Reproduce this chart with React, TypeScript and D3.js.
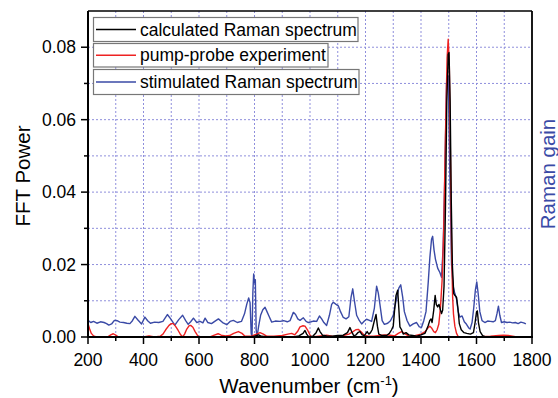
import React from "react";
import * as d3 from "d3";

const blueX = [200,210,220,232,245,258,267,275,285,295,305,315,328,340,351,360,369,380,393,405,415,425,440,455,470,486,498,513,527,541,552,561,570,580,592,604,614,622,632,645,658,670,685,700,712,724,738,753,764,772,779,784,788,791,794,797,800,803,806,809,815,822,830,838,845,852,862,875,892,905,918,928,940,948,956,964,976,986,994,1004,1012,1024,1034,1042,1050,1060,1070,1078,1084,1094,1102,1110,1120,1130,1140,1148,1154,1160,1168,1178,1186,1196,1204,1214,1222,1232,1240,1246,1252,1260,1268,1280,1290,1300,1310,1320,1327,1334,1340,1350,1360,1372,1384,1394,1402,1410,1418,1426,1432,1438,1442,1447,1452,1460,1468,1474,1480,1486,1492,1498,1504,1510,1516,1522,1528,1534,1540,1548,1556,1564,1572,1577,1584,1590,1596,1601,1606,1612,1620,1630,1640,1650,1660,1668,1674,1679,1684,1690,1700,1710,1720,1730,1740,1750,1760,1770,1778];
const blueY = [0.0046,0.0040,0.0043,0.0038,0.0042,0.0040,0.0037,0.0033,0.0036,0.0046,0.0045,0.0041,0.0040,0.0038,0.0037,0.0045,0.0057,0.0047,0.0036,0.0055,0.0045,0.0038,0.0041,0.0040,0.0043,0.0062,0.0050,0.0033,0.0048,0.0060,0.0045,0.0035,0.0042,0.0052,0.0040,0.0043,0.0039,0.0052,0.0040,0.0037,0.0044,0.0050,0.0040,0.0034,0.0043,0.0046,0.0040,0.0043,0.0064,0.0090,0.0108,0.0095,0.0010,0.0000,0.0120,0.0174,0.0150,0.0158,0.0020,0.0000,0.0030,0.0060,0.0075,0.0082,0.0070,0.0058,0.0041,0.0044,0.0043,0.0045,0.0042,0.0045,0.0068,0.0062,0.0050,0.0046,0.0053,0.0043,0.0040,0.0042,0.0044,0.0043,0.0058,0.0050,0.0040,0.0032,0.0060,0.0090,0.0096,0.0090,0.0086,0.0070,0.0054,0.0050,0.0056,0.0110,0.0133,0.0100,0.0060,0.0045,0.0036,0.0044,0.0049,0.0046,0.0043,0.0080,0.0140,0.0122,0.0090,0.0045,0.0035,0.0038,0.0045,0.0060,0.0100,0.0135,0.0144,0.0110,0.0070,0.0045,0.0030,0.0036,0.0040,0.0028,0.0027,0.0045,0.0070,0.0150,0.0220,0.0270,0.0278,0.0240,0.0215,0.0190,0.0178,0.0165,0.0250,0.0450,0.0700,0.0720,0.0450,0.0200,0.0140,0.0120,0.0105,0.0070,0.0055,0.0058,0.0042,0.0035,0.0025,0.0022,0.0040,0.0080,0.0130,0.0152,0.0120,0.0070,0.0045,0.0040,0.0044,0.0043,0.0042,0.0045,0.0065,0.0085,0.0060,0.0040,0.0042,0.0040,0.0041,0.0039,0.0040,0.0037,0.0041,0.0039,0.0036];

const redX = [200,206,212,220,230,270,282,291,300,310,400,420,440,460,470,480,492,500,507,515,525,534,541,548,556,564,570,578,586,594,601,640,655,669,680,695,710,725,742,755,765,775,790,805,820,832,845,870,900,920,934,945,955,964,975,982,992,1000,1006,1030,1060,1080,1100,1120,1140,1155,1165,1174,1185,1195,1210,1230,1250,1270,1290,1305,1318,1330,1340,1355,1370,1385,1400,1415,1425,1432,1438,1446,1452,1458,1464,1470,1476,1482,1488,1494,1498,1502,1506,1510,1514,1517,1522,1528,1535,1600,1650,1680,1697,1715,1740,1780];
const redY = [0.0037,0.0022,0.0010,0.0003,0.0000,0.0000,0.0006,0.0009,0.0005,0.0000,0.0000,0.0003,0.0000,0.0002,0.0008,0.0020,0.0032,0.0037,0.0037,0.0030,0.0018,0.0006,0.0000,0.0008,0.0022,0.0031,0.0032,0.0027,0.0015,0.0005,0.0000,0.0000,0.0005,0.0009,0.0005,0.0003,0.0004,0.0010,0.0015,0.0010,0.0003,0.0002,0.0003,0.0007,0.0012,0.0008,0.0002,0.0002,0.0004,0.0008,0.0010,0.0006,0.0015,0.0028,0.0031,0.0030,0.0018,0.0006,0.0000,0.0002,0.0005,0.0002,0.0001,0.0004,0.0008,0.0015,0.0020,0.0021,0.0014,0.0005,0.0002,0.0002,0.0004,0.0006,0.0005,0.0003,0.0010,0.0015,0.0010,0.0003,0.0002,0.0005,0.0008,0.0015,0.0025,0.0030,0.0025,0.0015,0.0012,0.0020,0.0035,0.0080,0.0156,0.0300,0.0550,0.0770,0.0822,0.0750,0.0500,0.0250,0.0110,0.0064,0.0030,0.0010,0.0000,0.0000,0.0002,0.0004,0.0005,0.0004,0.0001,0.0000];

const blackX = [200,780,800,815,825,850,940,960,975,982,988,995,1010,1022,1030,1036,1045,1060,1080,1100,1120,1135,1144,1150,1158,1166,1174,1180,1188,1196,1206,1212,1218,1224,1232,1238,1243,1248,1260,1276,1286,1294,1300,1306,1310,1316,1320,1324,1330,1336,1346,1356,1370,1384,1400,1414,1420,1426,1432,1436,1440,1446,1451,1455,1460,1465,1470,1474,1478,1483,1488,1493,1498,1501,1505,1509,1513,1518,1522,1528,1533,1538,1545,1555,1565,1578,1589,1595,1600,1603,1607,1613,1622,1631,1650,1780];
const blackY = [0,0,0.0002,0.0006,0.0002,0,0,0.0003,0.0010,0.0018,0.0008,0.0001,0.0002,0.0012,0.0025,0.0015,0.0005,0.0003,0.0002,0.0004,0.0005,0.0012,0.0026,0.0015,0.0003,0.0006,0.0013,0.0015,0.0006,0.0004,0.0015,0.0008,0.0012,0.0020,0.0045,0.0062,0.0030,0.0008,0.0004,0.0004,0.0010,0.0020,0.0030,0.0085,0.0115,0.0129,0.0080,0.0028,0.0020,0.0008,0.0012,0.0006,0.0004,0.0002,0.0006,0.0010,0.0020,0.0032,0.0046,0.0050,0.0040,0.0075,0.0115,0.0090,0.0083,0.0090,0.0075,0.0065,0.0074,0.0140,0.0350,0.0650,0.0780,0.0785,0.0650,0.0380,0.0200,0.0120,0.0115,0.0110,0.0080,0.0037,0.0020,0.0012,0.0010,0.0008,0.0012,0.0040,0.0069,0.0072,0.0040,0.0015,0.0004,0.0001,0,0];

const xMajorTicks = [200,400,600,800,1000,1200,1400,1600,1800];
const xMinorTicks = [300,500,700,900,1100,1300,1500,1700];
const yMajorTicks = [0,0.02,0.04,0.06,0.08];
const yMinorTicks = [0.01,0.03,0.05,0.07];
const xGrid = [300,400,500,600,700,800,900,1000,1100,1200,1300,1400,1500,1600,1700];
const yGrid = [0.01,0.02,0.03,0.04,0.05,0.06,0.07,0.08];

const legendLabels = ["calculated Raman spectrum","pump-probe experiment","stimulated Raman spectrum"];
const seriesColors = ["#000000","#ee2222","#3a4aa6"];

const W = 558, H = 398;
const L = 88, R = 532, T = 11, B = 337;
const FONT = "'Liberation Sans', Arial, Helvetica, sans-serif";

export default function App() {
  const x = d3.scaleLinear().domain([200, 1800]).range([L, R]);
  const y = d3.scaleLinear().domain([0, 0.09]).range([B, T]);
  const line = d3.line<[number, number]>().x(d => x(d[0])).y(d => y(d[1]));
  const mk = (xs: number[], ys: number[]) => line(xs.map((v, i) => [v, ys[i]] as [number, number])) || "";
  const series = [
    { d: mk(blueX, blueY), c: seriesColors[2] },
    { d: mk(redX, redY), c: seriesColors[1] },
    { d: mk(blackX, blackY), c: seriesColors[0] },
  ];
  const legendBoxes = [
    { y0: 17.5, y1: 41.5, x1: 358 },
    { y0: 43.5, y1: 67, x1: 328 },
    { y0: 69.5, y1: 94.5, x1: 359 },
  ];
  return (
    <svg width={W} height={H} style={{ position: "absolute", left: 0, top: 0, background: "#fff" }} fontFamily={FONT}>
      <defs>
        <clipPath id="plotclip"><rect x={L} y={T} width={R - L} height={B - T} /></clipPath>
      </defs>
      {xGrid.map(v => (
        <line key={"gx" + v} x1={x(v)} x2={x(v)} y1={T} y2={B} stroke="#8f8fdc" strokeWidth={1} strokeDasharray="2,2" />
      ))}
      {yGrid.map(v => (
        <line key={"gy" + v} x1={L} x2={R} y1={y(v)} y2={y(v)} stroke="#8f8fdc" strokeWidth={1} strokeDasharray="2,2" />
      ))}
      <g clipPath="url(#plotclip)">
        {series.map((s, i) => (
          <path key={i} d={s.d} fill="none" stroke={s.c} strokeWidth={1.4} strokeLinejoin="round" />
        ))}
      </g>
      {/* frame */}
      <line x1={L} x2={R} y1={T} y2={T} stroke="#000" strokeWidth={1.5} />
      <line x1={R} x2={R} y1={T} y2={B} stroke="#000" strokeWidth={1.8} />
      <line x1={L} x2={L} y1={T} y2={B + 1} stroke="#000" strokeWidth={2} />
      <line x1={L - 1} x2={R + 1} y1={B} y2={B} stroke="#000" strokeWidth={2} />
      {/* x ticks */}
      {xMajorTicks.map(v => (
        <g key={"xt" + v}>
          <line x1={x(v)} x2={x(v)} y1={B} y2={B + 7} stroke="#000" strokeWidth={1.5} />
          <text x={x(v)} y={366} fontSize={17.5} textAnchor="middle" fill="#000">{v}</text>
        </g>
      ))}
      {xMinorTicks.map(v => (
        <line key={"xm" + v} x1={x(v)} x2={x(v)} y1={B} y2={B + 4} stroke="#000" strokeWidth={1.5} />
      ))}
      {/* y ticks */}
      {yMajorTicks.map(v => (
        <g key={"yt" + v}>
          <line x1={L - 7} x2={L} y1={y(v)} y2={y(v)} stroke="#000" strokeWidth={1.5} />
          <text x={76} y={y(v) + 6} fontSize={17.5} textAnchor="end" fill="#000">{v.toFixed(2)}</text>
        </g>
      ))}
      {yMinorTicks.map(v => (
        <line key={"ym" + v} x1={L - 4} x2={L} y1={y(v)} y2={y(v)} stroke="#000" strokeWidth={1.5} />
      ))}
      {/* axis titles */}
      <text x={309} y={393} fontSize={20.5} textAnchor="middle" fill="#000">
        Wavenumber (cm<tspan dy={-8} fontSize={13}>-1</tspan><tspan dy={8}>)</tspan>
      </text>
      <text transform="translate(30,176) rotate(-90)" fontSize={20.5} textAnchor="middle" fill="#000">FFT Power</text>
      <text transform="translate(555,174) rotate(-90)" fontSize={20.5} textAnchor="middle" fill="#3a4aa6">Raman gain</text>
      {/* legend */}
      {legendLabels.map((lab, i) => {
        const b = legendBoxes[i];
        const cy = (b.y0 + b.y1) / 2;
        return (
          <g key={"lg" + i}>
            <rect x={93.5} y={b.y0} width={b.x1 - 93.5} height={b.y1 - b.y0} fill="#fff" stroke="#777" strokeWidth={1.2} />
            <line x1={96} x2={136} y1={cy} y2={cy} stroke={seriesColors[i]} strokeWidth={1.3} />
            <text x={140} y={cy + 6} fontSize={17.5} fill="#000">{lab}</text>
          </g>
        );
      })}
    </svg>
  );
}
